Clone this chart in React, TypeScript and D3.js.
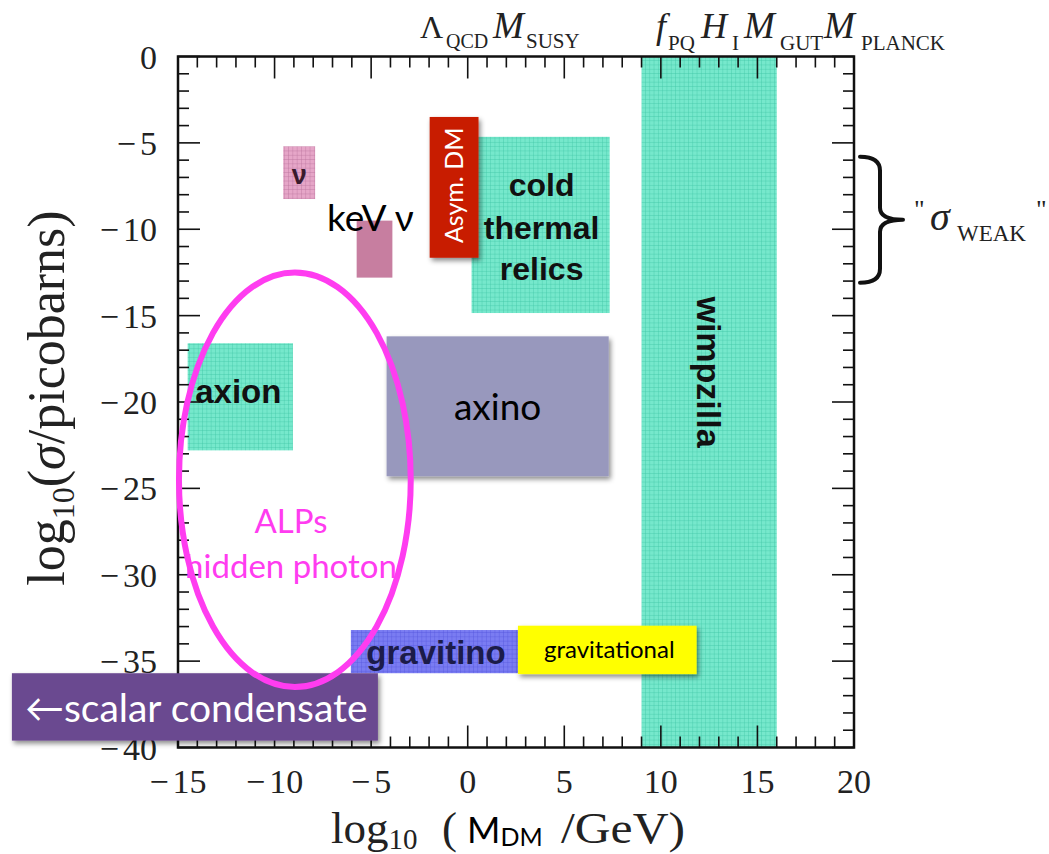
import React from 'react';
import * as d3 from 'd3';

const W = 1049;
const H = 854;

// axis extents (log10 of mass in GeV, log10 of cross-section in pb)
const xDomain: [number, number] = [-15, 20];
const yDomain: [number, number] = [-40, 0];
const xTickValues = [-15, -10, -5, 0, 5, 10, 15, 20];
const yTickValues = [0, -5, -10, -15, -20, -25, -30, -35, -40];

// gridded candidate regions
const gridRegions = [
  { id: 'wimpzilla', x0: 9, x1: 16, y0: 0, y1: -40, pattern: 'teal' },
  { id: 'thermal', x0: 0.2, x1: 7.35, y0: -4.65, y1: -14.85, pattern: 'teal' },
  { id: 'axion', x0: -14.5, x1: -9.05, y0: -16.6, y1: -22.8, pattern: 'teal' },
  { id: 'nu', x0: -9.55, x1: -7.9, y0: -5.2, y1: -8.25, pattern: 'pink' },
  { id: 'gravitino', x0: -6.05, x1: 2.7, y0: -33.2, y1: -35.7, pattern: 'blue' },
];

// solid annotation boxes
const solidRegions = [
  { id: 'kevnu', x0: -5.75, x1: -3.9, y0: -9.5, y1: -12.8, fill: '#c77ea0', shadow: false },
  { id: 'axino', x0: -4.2, x1: 7.3, y0: -16.2, y1: -24.3, fill: '#9898bd', shadow: true },
  { id: 'asym', x0: -1.97, x1: 0.56, y0: -3.5, y1: -11.65, fill: '#c81d02', shadow: true },
  { id: 'gravitational', x0: 2.6, x1: 11.85, y0: -32.95, y1: -35.75, fill: '#ffff00', shadow: true },
  { id: 'scalar', x0: -23.6, x1: -4.65, y0: -35.7, y1: -39.6, fill: '#6b4890', shadow: true },
];

// ALPs / hidden photon ellipse: centre and half-axes in data units
const alpEllipse = { cx: -8.95, cy: -24.5, rx: 6.0, ry: 12.0 };

// weak-scale cross-section range marked by the brace
const weakRange = { top: -5.8, bottom: -13.1 };

const left = 178;
const right = 854;
const top = 56.5;
const bottom = 747.5;

const serif = '"Liberation Serif", "DejaVu Serif", serif';
const sans = 'Lato, "Open Sans", sans-serif';
const boldSans = '"Liberation Sans", Arial, sans-serif';

const fmt = (v: number) => (v < 0 ? ['\u2212', `${Math.abs(v)}`] : ['', `${v}`]);

export default function App() {
  const x = d3.scaleLinear().domain(xDomain).range([left, right]);
  const y = d3.scaleLinear().domain(yDomain).range([bottom, top]);

  const xMinor = d3.range(xDomain[0], xDomain[1] + 1, 1);
  const yMinor = d3.range(yDomain[0], yDomain[1] + 1, 1);

  const rectOf = (r: { x0: number; x1: number; y0: number; y1: number }) => ({
    x: x(Math.min(r.x0, r.x1)),
    y: y(Math.max(r.y0, r.y1)),
    width: Math.abs(x(r.x1) - x(r.x0)),
    height: Math.abs(y(r.y1) - y(r.y0)),
  });

  const region = (id: string) => {
    const g = gridRegions.find((r) => r.id === id);
    const s = solidRegions.find((r) => r.id === id);
    return rectOf((g || s)!);
  };

  const bTop = y(weakRange.top);
  const bBot = y(weakRange.bottom);
  const bMid = (bTop + bBot) / 2;
  const bx0 = right + 6;
  const bx1 = right + 26;
  const bx2 = right + 49;
  const brace = `M ${bx0} ${bTop} Q ${bx1} ${bTop} ${bx1} ${bTop + 14} L ${bx1} ${bMid - 12} Q ${bx1} ${bMid} ${bx2} ${bMid} Q ${bx1} ${bMid} ${bx1} ${bMid + 12} L ${bx1} ${bBot - 14} Q ${bx1} ${bBot} ${bx0} ${bBot}`;

  const asym = region('asym');
  const thermal = region('thermal');
  const axion = region('axion');
  const axino = region('axino');
  const wimp = region('wimpzilla');
  const nu = region('nu');
  const gravl = region('gravitational');
  const scalar = region('scalar');

  const patterns = [
    { id: 'teal', fill: '#76e8cc', line: '#36bf9e' },
    { id: 'pink', fill: '#e6a6c8', line: '#b06694' },
    { id: 'blue', fill: '#7a7cf2', line: '#4a4ed8' },
  ];

  return (
    <svg
      width={W}
      height={H}
      viewBox={`0 0 ${W} ${H}`}
      style={{ position: 'absolute', left: 0, top: 0, background: '#ffffff' }}
    >
      <defs>
        {patterns.map((p) => (
          <pattern key={p.id} id={`grid-${p.id}`} width={4.3} height={4.3} patternUnits="userSpaceOnUse">
            <rect width={4.3} height={4.3} fill={p.fill} />
            <path d="M 0 0 H 4.3 M 0 0 V 4.3" stroke={p.line} strokeWidth={0.8} opacity={0.8} />
          </pattern>
        ))}
        <filter id="shadow" x="-10%" y="-10%" width="125%" height="130%">
          <feDropShadow dx={2} dy={3} stdDeviation={2.5} floodColor="#000" floodOpacity={0.45} />
        </filter>
      </defs>

      <rect x={0} y={0} width={W} height={H} fill="#ffffff" />

      {/* gridded regions */}
      {gridRegions.map((r) => {
        const b = rectOf(r);
        return <rect key={r.id} {...b} fill={`url(#grid-${r.pattern})`} />;
      })}

      {/* frame */}
      <rect x={left} y={top} width={right - left} height={bottom - top} fill="none" stroke="#111" strokeWidth={2.5} />

      {/* ticks on all four sides */}
      <g stroke="#111" strokeWidth={1.6}>
        {xMinor.map((v) => {
          const major = v % 5 === 0;
          const len = major ? 22 : 11;
          return (
            <g key={`xt${v}`}>
              <line x1={x(v)} x2={x(v)} y1={bottom} y2={bottom - len} />
              <line x1={x(v)} x2={x(v)} y1={top} y2={top + len} />
            </g>
          );
        })}
        {yMinor.map((v) => {
          const major = v % 5 === 0;
          const len = major ? 22 : 11;
          return (
            <g key={`yt${v}`}>
              <line x1={left} x2={left + len} y1={y(v)} y2={y(v)} />
              <line x1={right} x2={right - len} y1={y(v)} y2={y(v)} />
            </g>
          );
        })}
      </g>

      {/* tick labels */}
      <g fontFamily={serif} fontSize={34} fill="#222">
        {xTickValues.map((v) => {
          const [sign, num] = fmt(v);
          return (
            <text key={`xl${v}`} x={x(v)} y={793} textAnchor="middle">
              {sign}
              <tspan dx={sign ? 4 : 0}>{num}</tspan>
            </text>
          );
        })}
        {yTickValues.map((v) => {
          const [sign, num] = fmt(v);
          return (
            <text key={`yl${v}`} x={157} y={y(v) + 12} textAnchor="end">
              {sign}
              <tspan dx={sign ? 4 : 0}>{num}</tspan>
            </text>
          );
        })}
      </g>

      {/* y axis title */}
      <text
        transform={`translate(64, 398) rotate(-90)`}
        textAnchor="middle"
        fontFamily={serif}
        fontSize={52}
        fill="#222"
      >
        log<tspan fontSize={32} dy={10}>10</tspan>
        <tspan dy={-10}>(</tspan>
        <tspan fontStyle="italic">σ</tspan>/picobarns)
      </text>

      {/* x axis title */}
      <text x={331} y={843} fontFamily={serif} fontSize={45} fill="#222">
        log<tspan fontSize={29} dy={6}>10</tspan>
      </text>
      <text x={442} y={843} fontFamily={serif} fontSize={45} fill="#222">(</text>
      <text x={467} y={843} fontFamily={sans} fontSize={36} fill="#000">
        M<tspan fontSize={25} dy={3}>DM</tspan>
      </text>
      <text x={561} y={843} fontFamily={serif} fontSize={45} fill="#222" textLength={124} lengthAdjust="spacingAndGlyphs">
        /GeV)
      </text>

      {/* energy scales along the top */}
      <g fontFamily={serif} fill="#222">
        <text x={420} y={38} fontSize={32}>Λ</text>
        <text x={446} y={48} fontSize={20}>QCD</text>
        <text x={493} y={38} fontSize={37} fontStyle="italic">M</text>
        <text x={526} y={48} fontSize={21}>SUSY</text>
        <text x={656} y={38} fontSize={36} fontStyle="italic">f</text>
        <text x={668} y={50} fontSize={21}>PQ</text>
        <text x={701} y={38} fontSize={36} fontStyle="italic">H</text>
        <text x={732} y={50} fontSize={21}>I</text>
        <text x={744} y={38} fontSize={37} fontStyle="italic">M</text>
        <text x={780} y={50} fontSize={21}>GUT</text>
        <text x={824} y={38} fontSize={37} fontStyle="italic">M</text>
        <text x={861} y={50} fontSize={21}>PLANCK</text>
      </g>

      {/* weak-scale brace */}
      <path d={brace} fill="none" stroke="#111" strokeWidth={4} strokeLinecap="round" strokeLinejoin="round" />
      <g fontFamily={serif} fill="#222">
        <text x={914} y={218} fontSize={26}>"</text>
        <text x={930} y={230} fontSize={40} fontStyle="italic">σ</text>
        <text x={957} y={241} fontSize={23}>WEAK</text>
        <text x={1036} y={218} fontSize={26}>"</text>
      </g>

      {/* labels inside gridded regions */}
      <g fontFamily={boldSans} fontWeight="bold" fill="#111" textAnchor="middle">
        <text x={thermal.x + thermal.width / 2 + 1} y={196} fontSize={32}>cold</text>
        <text x={thermal.x + thermal.width / 2 + 1} y={239} fontSize={32}>thermal</text>
        <text x={thermal.x + thermal.width / 2 + 1} y={280} fontSize={32}>relics</text>
        <text x={axion.x + axion.width / 2 - 2} y={403} fontSize={33}>axion</text>
        <text
          transform={`translate(${wimp.x + wimp.width / 2 - 12}, ${372}) rotate(90)`}
          fontSize={34}
        >
          wimpzilla
        </text>
        <text x={nu.x + nu.width / 2} y={184} fontSize={27} fill="#3a1a2c">ν</text>
        <text x={436} y={664} fontSize={33} fill="#1c1c4a">gravitino</text>
      </g>

      {/* solid annotation boxes */}
      {solidRegions.map((r) => {
        const b = rectOf(r);
        return <rect key={r.id} {...b} fill={r.fill} filter={r.shadow ? 'url(#shadow)' : undefined} />;
      })}

      {/* box labels */}
      <text x={327} y={231} fontFamily={sans} fontSize={37} fill="#000">keV ν</text>
      <text
        transform={`translate(${asym.x + asym.width / 2 + 9}, ${asym.y + asym.height / 2 - 2}) rotate(-90)`}
        textAnchor="middle"
        fontFamily={sans}
        fontSize={25}
        fill="#fff"
      >
        Asym. DM
      </text>
      <text x={axino.x + axino.width / 2} y={420} textAnchor="middle" fontFamily={sans} fontSize={37} fill="#000">
        axino
      </text>
      <text x={gravl.x + gravl.width / 2 + 2} y={658} textAnchor="middle" fontFamily={sans} fontSize={24} fill="#000">
        gravitational
      </text>
      <text x={scalar.x + 13} y={722} fontFamily={sans} fontSize={39} fill="#fff">
        ←scalar condensate
      </text>

      {/* ALPs / hidden photon region */}
      <ellipse
        cx={x(alpEllipse.cx)}
        cy={y(alpEllipse.cy)}
        rx={x(alpEllipse.cx + alpEllipse.rx) - x(alpEllipse.cx)}
        ry={y(alpEllipse.cy - alpEllipse.ry) - y(alpEllipse.cy)}
        fill="none"
        stroke="#ff3cf0"
        strokeWidth={6}
      />
      <g fontFamily={sans} fontSize={33} fill="#ff3cf0" textAnchor="middle">
        <text x={291} y={533}>ALPs</text>
        <text x={291} y={578}>hidden photon</text>
      </g>
    </svg>
  );
}
